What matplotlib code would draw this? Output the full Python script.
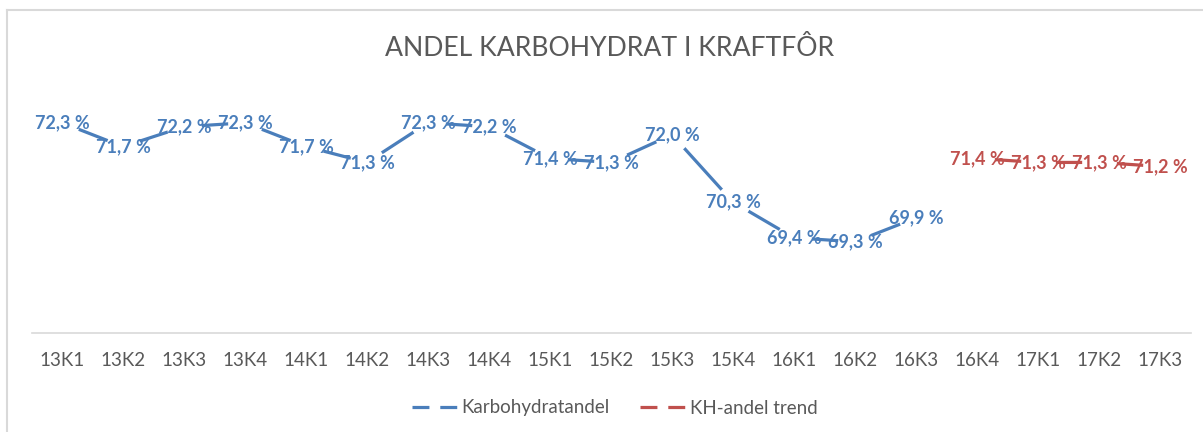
import matplotlib
matplotlib.use("Agg")
import matplotlib.pyplot as plt
from matplotlib.lines import Line2D

# data
kvartal = ["13K1", "13K2", "13K3", "13K4", "14K1", "14K2", "14K3", "14K4", "15K1", "15K2",
           "15K3", "15K4", "16K1", "16K2", "16K3", "16K4", "17K1", "17K2", "17K3"]
karbohydrat = [72.3, 71.7, 72.2, 72.3, 71.7, 71.3, 72.3, 72.2, 71.4, 71.3,
               72.0, 70.3, 69.4, 69.3, 69.9]
trend_start = 15
trend = [71.4, 71.3, 71.3, 71.2]

blue = "#4a7ebb"
red = "#c0504d"
grey = "#595959"

plt.rcParams['font.family'] = ['Lato', 'DejaVu Sans']

fig = plt.figure(figsize=(12.03, 4.32), dpi=100)
W, H = 1203, 432
ax = fig.add_axes([31.5 / W, (H - 333) / H, (1190.5 - 31.5) / W, (333 - 95) / H])

# chart border
fig.add_artist(Line2D([7 / W, 1.0], [1 - 10 / H, 1 - 10 / H], color="#d9d9d9", lw=1.5))
fig.add_artist(Line2D([7 / W, 7 / W], [0, 1 - 10 / H], color="#d9d9d9", lw=1.5))


def draw_series(xs, ys, color):
    # white markers cut the line around each point, like the Excel labels
    ax.plot(xs, ys, color=color, lw=2.3, solid_capstyle="butt", zorder=2,
            marker="o", markersize=25, markerfacecolor="white", markeredgecolor="none")
    for x, y in zip(xs, ys):
        ax.text(x, y, f"{y:.1f} %".replace(".", ","), ha="center", va="center",
                fontsize=13, fontweight="bold", color=color, zorder=3)


draw_series(list(range(len(karbohydrat))), karbohydrat, blue)
draw_series(list(range(trend_start, trend_start + len(trend))), trend, red)

ax.set_xlim(-0.5, len(kvartal) - 0.5)
ax.set_ylim(67, 73)
ax.set_xticks(range(len(kvartal)))
ax.set_xticklabels(kvartal, fontsize=13.5, color=grey)
ax.tick_params(axis="x", length=0, pad=14)
ax.set_yticks([])
for s in ["top", "right", "left"]:
    ax.spines[s].set_visible(False)
ax.spines["bottom"].set_color("#d9d9d9")
ax.spines["bottom"].set_linewidth(1.2)

fig.text(0.507, 1 - 48 / H, "ANDEL KARBOHYDRAT I KRAFTFÔR", ha="center", va="center",
         fontsize=19.2, color=grey)

handles = [Line2D([], [], color=blue, lw=2.3, linestyle=(0, (5.3, 3.4))),
           Line2D([], [], color=red, lw=2.3, linestyle=(0, (5.3, 3.4)))]
fig.legend(handles, ["Karbohydratandel", "KH-andel trend"], loc="center",
           bbox_to_anchor=(0.511, 1 - 408 / H), ncol=2, frameon=False,
           fontsize=13.5, labelcolor=grey, handlelength=2.4, handletextpad=0.27,
           columnspacing=1.6)

fig.savefig("out.png", dpi=100)
